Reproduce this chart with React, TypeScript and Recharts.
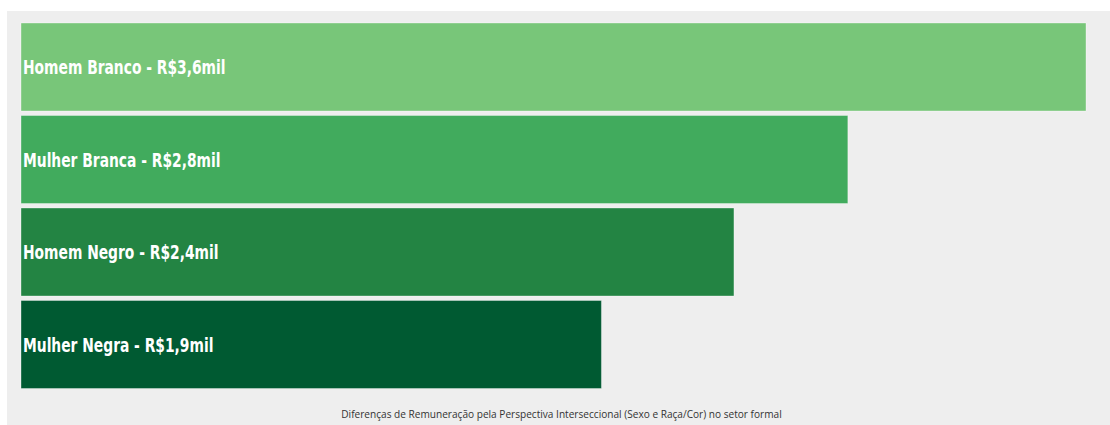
import { Bar, BarChart, XAxis, YAxis, LabelList, Cell } from "recharts"

const groups = ["Homem Branco", "Mulher Branca", "Homem Negro", "Mulher Negra"]
const salaries = [3.6, 2.795, 2.41, 1.962]
const salaryLabels = ["R$3,6mil", "R$2,8mil", "R$2,4mil", "R$1,9mil"]
const colors = ["#78c679", "#41ab5d", "#238443", "#005a32"]
const caption = "Diferenças de Remuneração pela Perspectiva Interseccional (Sexo e Raça/Cor) no setor formal"

const data = groups.map((g, i) => ({
  group: g,
  salary: salaries[i],
  label: `${g} - ${salaryLabels[i]}`,
}))

// condensed look: narrow font squeezed a bit more horizontally
const renderLabel = (props: any) => {
  const { x, y, height, value } = props
  return (
    <text
      transform={`translate(${x + 2}, ${y + height / 2}) scale(0.77, 1)`}
      dominantBaseline="central"
      fill="#ffffff"
      fontFamily="'DejaVu Sans', sans-serif"
      fontStretch="condensed"
      fontWeight="bold"
      fontSize={20}
    >
      {value}
    </text>
  )
}

export default function App() {
  return (
    <div
      style={{
        position: "absolute",
        left: 7,
        top: 11,
        width: 1103,
        height: 414,
        background: "#eeeeee",
      }}
    >
      <BarChart
        width={1103}
        height={390}
        data={data}
        layout="vertical"
        margin={{ top: 10, right: 24, bottom: 10, left: 14 }}
        barSize={88}
      >
        <XAxis type="number" hide domain={[0, 3.6]} />
        <YAxis type="category" dataKey="group" hide />
        <Bar dataKey="salary" isAnimationActive={false} stroke="#ffffff" strokeOpacity={0.35} strokeWidth={1}>
          {data.map((d, i) => (
            <Cell key={d.group} fill={colors[i]} />
          ))}
          <LabelList dataKey="label" content={renderLabel} />
        </Bar>
      </BarChart>
      <div
        style={{
          position: "absolute",
          left: 0,
          top: 396,
          width: 1103,
          paddingLeft: 6,
          boxSizing: "border-box",
          textAlign: "center",
          fontFamily: "'Open Sans', sans-serif",
          fontSize: 10.1,
          color: "#333333",
        }}
      >
        {caption}
      </div>
    </div>
  )
}
